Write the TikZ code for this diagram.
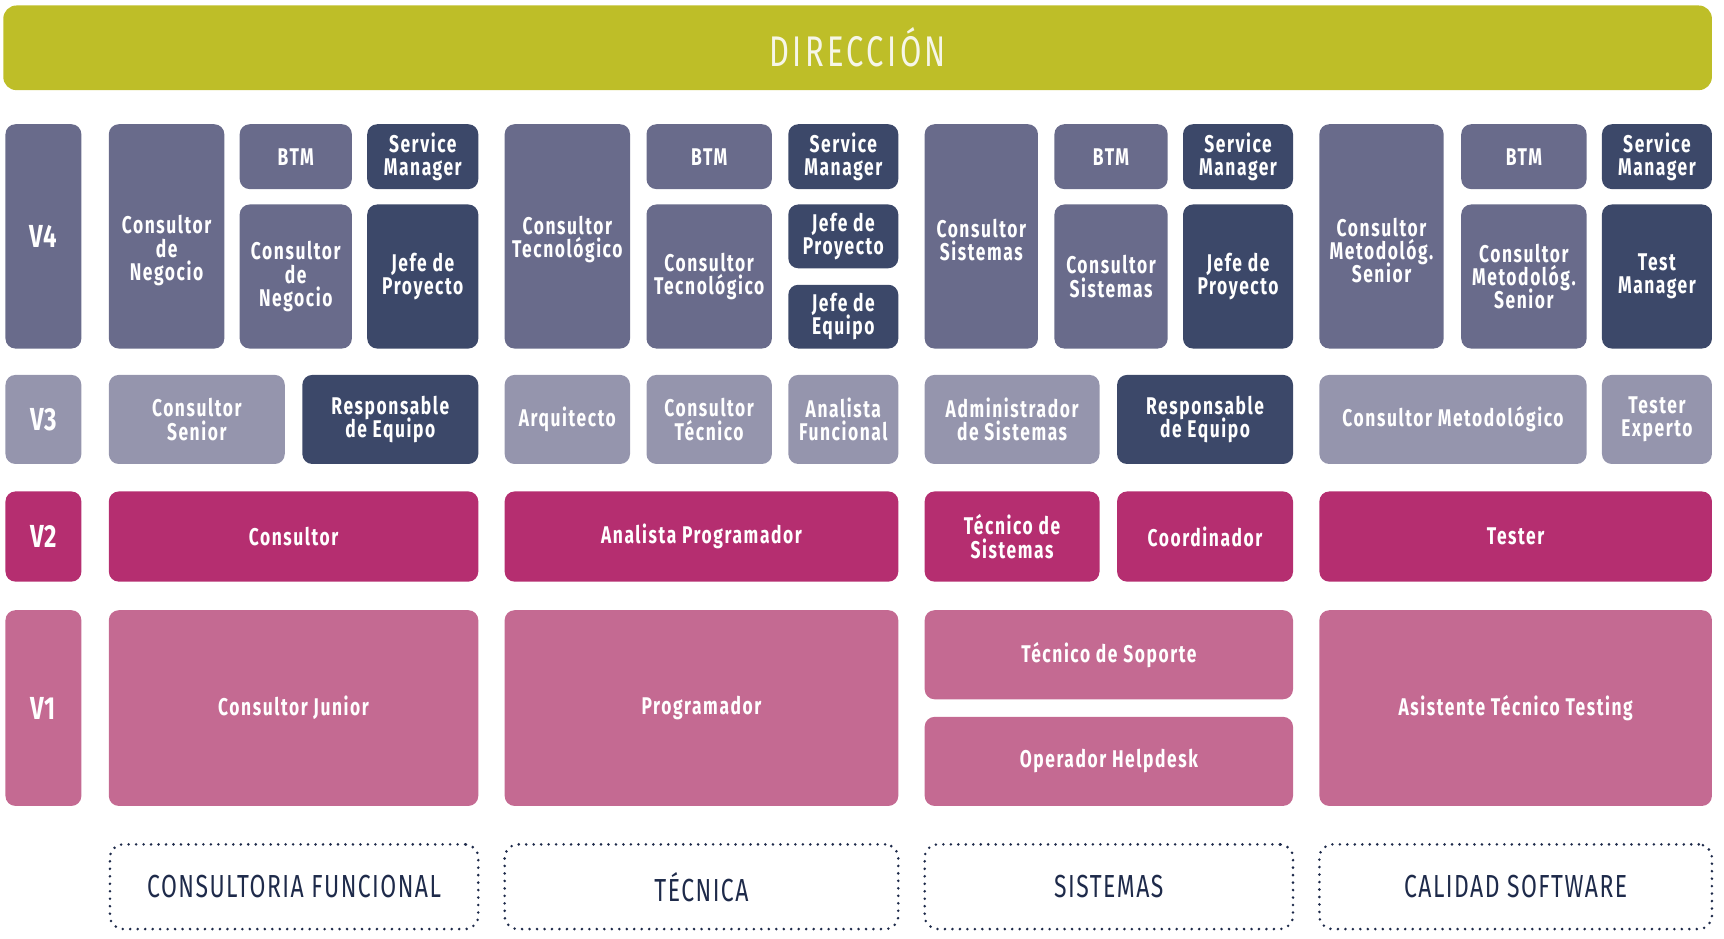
\documentclass[tikz,border=0pt]{standalone}
\usepackage{fontspec}
\newfontfamily\boxfont{Fira Sans}[FakeStretch=0.72, LetterSpace=6.5]
\newfontfamily\lvlfont{Fira Sans}[FakeStretch=0.75, LetterSpace=2]
\newfontfamily\headfont{Fira Sans}[FakeStretch=0.72, LetterSpace=8]
\newfontfamily\areafont{Fira Sans}[FakeStretch=0.72, LetterSpace=4.6]
\definecolor{olive}{HTML}{BEBE28}
\definecolor{slate}{HTML}{696B8B}
\definecolor{navy}{HTML}{3C4869}
\definecolor{lav}{HTML}{9595AD}
\definecolor{mag}{HTML}{B52E70}
\definecolor{pinkv}{HTML}{C46A92}
\definecolor{ink}{HTML}{1E2A4A}
\definecolor{paper}{HTML}{F6F6E8}
\tikzset{
  box/.style={rounded corners=4.5pt, inner sep=0pt, align=center, text=white,
    font={\boxfont\bfseries\fontsize{11}{10.6}\selectfont\lineskiplimit=-20pt}},
  bslate/.style={box, fill=slate},
  bnavy/.style={box, fill=navy},
  blav/.style={box, fill=lav},
  bmag/.style={box, fill=mag},
  bpink/.style={box, fill=pinkv},
  lvl/.style={font={\lvlfont\bfseries\fontsize{14.5}{15}\selectfont}},
  boxtext/.style={align=center, text=white, inner sep=0pt,
    font={\boxfont\bfseries\fontsize{11}{10.6}\selectfont\lineskiplimit=-20pt}},
  head/.style={rounded corners=6pt, inner sep=0pt, fill=olive, text=paper,
    font={\headfont\fontsize{19.5}{20}\selectfont}},
  area/.style={rounded corners=6pt, inner sep=0pt, draw=ink, line width=1.3pt,
    line cap=round, dash pattern=on 0pt off 3.4pt, text=ink,
    font={\areafont\fontsize{14.5}{15}\selectfont}}
}
\newcommand\cell[7]{\node[#2, minimum width={(#5-#3)*0.5pt}, minimum height={(#6-#4)*0.5pt}] (#1) at ({(#3+#5)/2},{(#4+#6)/2}) {#7};}
\begin{document}
\begin{tikzpicture}[x=0.5pt, y=-0.5pt]
\useasboundingbox (0,0) rectangle (1568,854);
% header
\cell{dir}{head}{3}{5}{1557}{82}{\raisebox{1.2pt}{DIRECCIÓN}}
% V4 row
\cell{v4}{bslate,lvl}{5}{113}{74}{317}{V4}
\cell{cn1}{bslate}{99}{113}{204}{317}{}
\node[boxtext] (cn1t) at (151.5,228) {Consultor\\de\\Negocio};
\cell{btm1}{bslate}{218}{113}{320}{172}{BTM}
\cell{sm1}{bnavy}{334}{113}{435}{172}{Service\\Manager}
\cell{cn2}{bslate}{218}{186}{320}{317}{Consultor\\de\\Negocio}
\cell{jp1}{bnavy}{334}{186}{435}{317}{Jefe de\\Proyecto}
\cell{ct1}{bslate}{459}{113}{573}{317}{}
\node[boxtext] (ct1t) at (516,218) {Consultor\\Tecnológico};
\cell{btm2}{bslate}{588}{113}{702}{172}{BTM}
\cell{sm2}{bnavy}{717}{113}{817}{172}{Service\\Manager}
\cell{ct2}{bslate}{588}{186}{702}{317}{Consultor\\Tecnológico}
\cell{jp2}{bnavy}{717}{186}{817}{244}{Jefe de\\Proyecto}
\cell{je2}{bnavy}{717}{259}{817}{317}{Jefe de\\Equipo}
\cell{cs1}{bslate}{841}{113}{944}{317}{}
\node[boxtext] (cs1t) at (892.5,218) {Consultor\\Sistemas};
\cell{btm3}{bslate}{959}{113}{1062}{172}{BTM}
\cell{sm3}{bnavy}{1076}{113}{1176}{172}{Service\\Manager}
\cell{cs2}{bslate}{959}{186}{1062}{317}{Consultor\\Sistemas}
\cell{jp3}{bnavy}{1076}{186}{1176}{317}{Jefe de\\Proyecto}
\cell{cm1}{bslate}{1200}{113}{1313}{317}{}
\node[boxtext] (cm1t) at (1256.5,228) {Consultor\\Metodológ.\\Senior};
\cell{btm4}{bslate}{1329}{113}{1443}{172}{BTM}
\cell{sm4}{bnavy}{1457}{113}{1557}{172}{Service\\Manager}
\cell{cm2}{bslate}{1329}{186}{1443}{317}{Consultor\\Metodológ.\\Senior}
\cell{tm}{bnavy}{1457}{186}{1557}{317}{Test\\Manager}
% V3 row
\cell{v3}{blav,lvl}{5}{341}{74}{422}{V3}
\cell{cse}{blav}{99}{341}{259}{422}{Consultor\\Senior}
\cell{re1}{bnavy}{275}{341}{435}{422}{Responsable\\de Equipo}
\cell{arq}{blav}{459}{341}{573}{422}{Arquitecto}
\cell{cte}{blav}{588}{341}{702}{422}{Consultor\\Técnico}
\cell{af}{blav}{717}{341}{817}{422}{Analista\\Funcional}
\cell{ads}{blav}{841}{341}{1000}{422}{Administrador\\de Sistemas}
\cell{re2}{bnavy}{1016}{341}{1176}{422}{Responsable\\de Equipo}
\cell{cme}{blav}{1200}{341}{1443}{422}{Consultor Metodológico}
\cell{te}{blav}{1457}{341}{1557}{422}{Tester\\Experto}
% V2 row
\cell{v2}{bmag,lvl}{5}{447}{74}{529}{V2}
\cell{con}{bmag}{99}{447}{435}{529}{Consultor}
\cell{ap}{bmag}{459}{447}{817}{529}{Analista Programador}
\cell{tsi}{bmag}{841}{447}{1000}{529}{Técnico de\\Sistemas}
\cell{coo}{bmag}{1016}{447}{1176}{529}{Coordinador}
\cell{tes}{bmag}{1200}{447}{1557}{529}{Tester}
% V1 row
\cell{v1}{bpink,lvl}{5}{555}{74}{733}{V1}
\cell{cj}{bpink}{99}{555}{435}{733}{Consultor Junior}
\cell{pro}{bpink}{459}{555}{817}{733}{Programador}
\cell{tso}{bpink}{841}{555}{1176}{636}{Técnico de Soporte}
\cell{oh}{bpink}{841}{652}{1176}{733}{Operador Helpdesk}
\cell{att}{bpink}{1200}{555}{1557}{733}{Asistente Técnico Testing}
% areas
\cell{a1}{area}{100}{768}{435}{845}{CONSULTORIA FUNCIONAL}
\cell{a2}{area}{459}{768}{817}{845}{TÉCNICA}
\cell{a3}{area}{841}{768}{1176}{845}{SISTEMAS}
\cell{a4}{area}{1200}{768}{1557}{845}{CALIDAD SOFTWARE}
\end{tikzpicture}
\end{document}
